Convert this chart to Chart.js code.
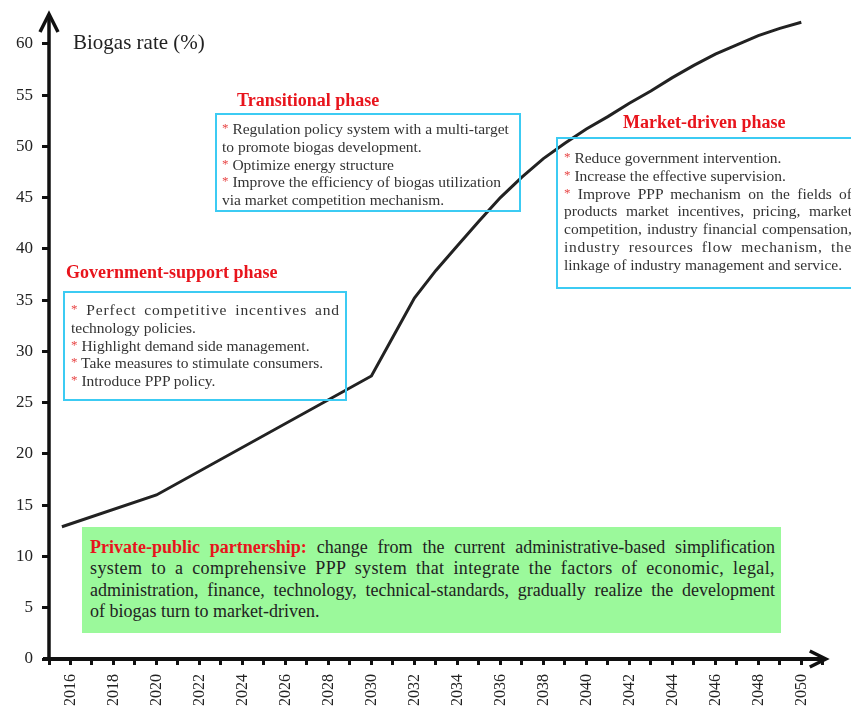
<!DOCTYPE html>
<html>
<head>
<meta charset="utf-8">
<script src="https://cdn.jsdelivr.net/npm/chart.js@4.4.0/dist/chart.umd.min.js"></script>
<style>
    html, body { margin: 0; padding: 0; background: #fff; overflow: hidden; }
    #wrap { position: relative; width: 851px; height: 713px; overflow: hidden; }
    #chart { position: absolute; left: 0; top: 0; }
    .serif { font-family: "Liberation Serif", "Times New Roman", serif; }
    .ylabel { position: absolute; left: 73px; top: 29px; font-size: 21px; color: #222; white-space: nowrap; line-height: 26px; }
    .title { position: absolute; font-weight: bold; color: #e8141c; font-size: 18px; white-space: nowrap; line-height: 20px; }
    .box { position: absolute; border: 2px solid #3ccbf3; box-sizing: border-box; font-size: 15.5px; color: #333; white-space: nowrap; }
    .box div { height: 17.8px; line-height: 17.8px; }
    .star { color: #e84545; font-size: 13px; position: relative; top: -2px; }
    .j { text-align: justify; text-align-last: justify; white-space: normal; }
    .green { position: absolute; left: 82px; top: 527px; width: 699px; height: 106px; background: #9bf99b; box-sizing: border-box; padding: 10px 6px 0 8px; font-size: 18px; color: #222; }
    .green div { height: 21.3px; line-height: 21.3px; white-space: nowrap; }
    .green .j { white-space: normal; }
    .red { color: #e8141c; font-weight: bold; }
</style>
</head>
<body>
<div id="wrap">
    <canvas id="chart" width="851" height="713"></canvas>

    <div class="ylabel serif">Biogas rate (%)</div>

    <div class="title serif" style="left:237px; top:90px;">Transitional phase</div>
    <div class="box serif" style="left:215px; top:113px; width:306px; height:99px; padding:5px 0 0 5px;">
        <div><span class="star">*</span> Regulation policy system with a multi-target</div>
        <div>to promote biogas development.</div>
        <div><span class="star">*</span> Optimize energy structure</div>
        <div><span class="star">*</span> Improve the efficiency of biogas utilization</div>
        <div>via market competition mechanism.</div>
    </div>

    <div class="title serif" style="left:66px; top:262px;">Government-support phase</div>
    <div class="box serif" style="left:63px; top:291px; width:284px; height:110px; padding:8px 5px 0 6px;">
        <div class="j" style="letter-spacing:0.9px;"><span class="star">*</span> Perfect competitive incentives and</div>
        <div>technology policies.</div>
        <div><span class="star">*</span> Highlight demand side management.</div>
        <div><span class="star">*</span> Take measures to stimulate consumers.</div>
        <div><span class="star">*</span> Introduce PPP policy.</div>
    </div>

    <div class="title serif" style="left:623px; top:112px;">Market-driven phase</div>
    <div class="box serif" style="left:556px; top:137px; width:322px; height:152px; padding:10px 24px 0 6px;">
        <div><span class="star">*</span> Reduce government intervention.</div>
        <div><span class="star">*</span> Increase the effective supervision.</div>
        <div class="j"><span class="star">*</span> Improve PPP mechanism on the fields of</div>
        <div class="j">products market incentives, pricing, market</div>
        <div class="j">competition, industry financial compensation,</div>
        <div class="j" style="letter-spacing:0.7px;">industry resources flow mechanism, the</div>
        <div>linkage of industry management and service.</div>
    </div>

    <div class="green serif">
        <div class="j"><span class="red">Private-public partnership:</span> change from the current administrative-based simplification</div>
        <div class="j" style="letter-spacing:0.4px;">system to a comprehensive PPP system that integrate the factors of economic, legal,</div>
        <div class="j">administration, finance, technology, technical-standards, gradually realize the development</div>
        <div>of biogas turn to market-driven.</div>
    </div>
</div>

<script>
// values
const years = [2015.6, 2020, 2030, 2031, 2032, 2033, 2034, 2035, 2036, 2037, 2038, 2039, 2040,
               2041, 2042, 2043, 2044, 2045, 2046, 2047, 2048, 2049, 2050];
const rates = [12.9, 16.0, 27.6, 31.4, 35.2, 37.9, 40.3, 42.7, 45.0, 47.0, 48.8, 50.3, 51.7,
               52.9, 54.2, 55.4, 56.7, 57.9, 59.0, 59.9, 60.8, 61.5, 62.1];

const xLabelYears = [2016, 2018, 2020, 2022, 2024, 2026, 2028, 2030, 2032, 2034,
                     2036, 2038, 2040, 2042, 2044, 2046, 2048, 2050];
const yTicks = [0, 5, 10, 15, 20, 25, 30, 35, 40, 45, 50, 55, 60];

const FONT = '"Liberation Serif", "Times New Roman", serif';

// thick axis lines with open arrow heads
const arrowAxes = {
    id: 'arrowAxes',
    afterDraw(chart) {
        const { ctx, chartArea: a } = chart;
        const tipY = chart.scales.y.getPixelForValue(63);
        ctx.save();
        ctx.strokeStyle = '#111';
        ctx.lineWidth = 3.5;
        ctx.lineCap = 'butt';
        ctx.lineJoin = 'miter';
        // y axis
        ctx.beginPath();
        ctx.moveTo(a.left, a.bottom + 2);
        ctx.lineTo(a.left, tipY + 2);
        ctx.stroke();
        ctx.beginPath();
        ctx.moveTo(a.left - 9, tipY + 19);
        ctx.lineTo(a.left, tipY + 1);
        ctx.lineTo(a.left + 9, tipY + 19);
        ctx.stroke();
        // x axis
        ctx.lineWidth = 4;
        ctx.beginPath();
        ctx.moveTo(a.left - 6, a.bottom);
        ctx.lineTo(a.right + 2, a.bottom);
        ctx.stroke();
        ctx.lineWidth = 3.5;
        ctx.beginPath();
        ctx.moveTo(a.right - 13, a.bottom - 8);
        ctx.lineTo(a.right + 3, a.bottom);
        ctx.lineTo(a.right - 13, a.bottom + 8);
        ctx.stroke();
        ctx.restore();
    }
};

new Chart(document.getElementById('chart'), {
    type: 'line',
    data: {
        datasets: [{
            data: years.map((y, i) => ({ x: y, y: rates[i] })),
            borderColor: '#222',
            borderWidth: 3,
            pointRadius: 0,
            tension: 0,
            fill: false
        }]
    },
    options: {
        responsive: false,
        animation: false,
        layout: { padding: { left: 0, top: 11, right: 25.5, bottom: 0 } },
        plugins: { legend: { display: false }, tooltip: { enabled: false } },
        scales: {
            x: {
                type: 'linear',
                min: 2015,
                max: 2051,
                afterFit: s => { s.height = 54; },
                border: { display: false },
                grid: { drawOnChartArea: false, drawTicks: true, tickLength: 6, tickWidth: 3, tickColor: '#111' },
                ticks: {
                    stepSize: 1,
                    autoSkip: false,
                    minRotation: 90,
                    maxRotation: 90,
                    padding: 9,
                    color: '#222',
                    font: { family: FONT, size: 16 },
                    callback: v => xLabelYears.includes(v) ? String(v) : ''
                }
            },
            y: {
                min: 0,
                max: 62.4,
                afterFit: s => { s.width = 49; },
                afterBuildTicks: s => { s.ticks = yTicks.map(v => ({ value: v })); },
                border: { display: false },
                grid: { drawOnChartArea: false, drawTicks: true, tickLength: 7, tickWidth: 3, tickColor: '#111' },
                ticks: {
                    padding: 9,
                    color: '#222',
                    font: { family: FONT, size: 17 }
                }
            }
        }
    },
    plugins: [arrowAxes]
});
</script>
</body>
</html>
